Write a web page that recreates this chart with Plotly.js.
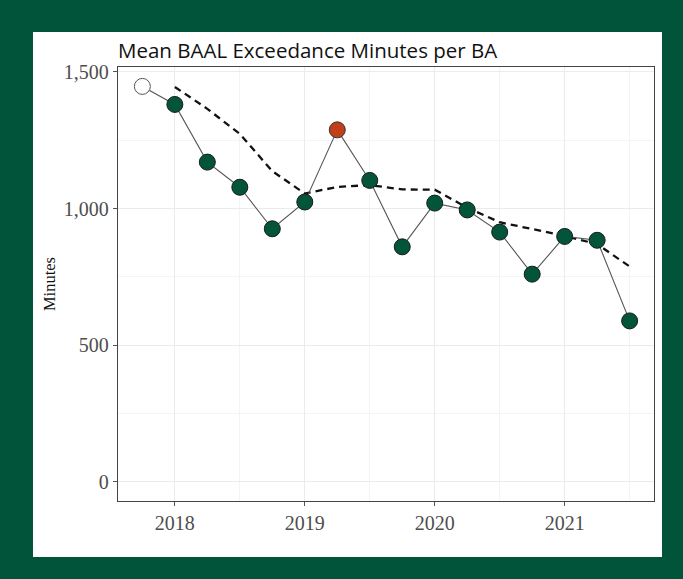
<!DOCTYPE html>
<html>
<head>
<meta charset="utf-8">
<script src="https://cdn.plot.ly/plotly-3.0.1.min.js"></script>
<style>
  html, body { margin: 0; padding: 0; background: #01543a; }
  #chart { width: 683px; height: 579px; }
</style>
</head>
<body>
<div id="chart"></div>
<script>
// Quarterly observations (decimal year)
const quarters = [2017.75, 2018.0, 2018.25, 2018.5, 2018.75, 2019.0, 2019.25, 2019.5,
                  2019.75, 2020.0, 2020.25, 2020.5, 2020.75, 2021.0, 2021.25, 2021.5];
const minutes  = [1447, 1381, 1170, 1078, 926, 1024, 1288, 1103,
                  860, 1020, 995, 914, 760, 898, 884, 589];
// Point status: first point open, one highlighted, rest normal
const pointKind = ["open", "normal", "normal", "normal", "normal", "normal", "high", "normal",
                   "normal", "normal", "normal", "normal", "normal", "normal", "normal", "normal"];
// Dashed trend
const trendQuarters = [2018.0, 2018.25, 2018.5, 2018.75, 2019.0, 2019.25, 2019.5, 2019.75,
                       2020.0, 2020.25, 2020.5, 2020.75, 2021.0, 2021.25, 2021.5];
const trendMinutes  = [1445, 1365, 1273, 1137, 1055, 1079, 1086, 1070,
                       1069, 1003, 950, 925, 900, 870, 788];
const yearTicks = [2018, 2019, 2020, 2021];
const yearLabels = ["2018", "2019", "2020", "2021"];
const minuteTicks = [0, 500, 1000, 1500];

const fillFor = {open: "#ffffff", normal: "#02553b", high: "#c0401a"};
const edgeFor = {open: "#555555", normal: "#1a1a1a", high: "#333333"};

const traces = [
  {
    x: trendQuarters, y: trendMinutes, type: "scatter", mode: "lines",
    line: {color: "#111111", width: 2.3, dash: "7px,5px"},
    hoverinfo: "skip"
  },
  {
    x: quarters, y: minutes, type: "scatter", mode: "lines+markers",
    line: {color: "#555555", width: 1.1},
    marker: {
      size: 16,
      color: pointKind.map(k => fillFor[k]),
      line: {color: pointKind.map(k => edgeFor[k]), width: 1}
    }
  }
];

const layout = {
  width: 683, height: 579,
  paper_bgcolor: "#01543a",
  plot_bgcolor: "#ffffff",
  showlegend: false,
  margin: {l: 118, r: 29, t: 67, b: 78, pad: 0},
  title: {
    text: "Mean BAAL Exceedance Minutes per BA",
    font: {family: "Open Sans, Noto Sans, sans-serif", size: 20.5, color: "#111111"},
    x: 0, xref: "paper", xanchor: "left",
    y: 1, yref: "paper", yanchor: "bottom", pad: {b: 9}
  },
  xaxis: {
    range: [2017.5625, 2021.6875],
    tickvals: yearTicks, ticktext: yearLabels,
    ticks: "outside", ticklen: 4, tickcolor: "#555555", tickwidth: 1,
    tickfont: {family: "Liberation Serif, serif", size: 20, color: "#4d4d4d"},
    showgrid: true, gridcolor: "#ebebeb", gridwidth: 1,
    minor: {dtick: 0.5, tick0: 2017.5, showgrid: true, gridcolor: "#f0f0f0", gridwidth: 0.7, ticks: ""},
    showline: true, linecolor: "#444444", linewidth: 1.2, mirror: true,
    zeroline: false, fixedrange: true
  },
  yaxis: {
    range: [-70, 1518],
    tickvals: minuteTicks, tickformat: ",d",
    ticks: "outside", ticklen: 4, tickcolor: "#555555", tickwidth: 1,
    tickfont: {family: "Liberation Serif, serif", size: 20, color: "#4d4d4d"},
    showgrid: true, gridcolor: "#ebebeb", gridwidth: 1,
    minor: {dtick: 250, tick0: 0, showgrid: true, gridcolor: "#f0f0f0", gridwidth: 0.7, ticks: ""},
    showline: true, linecolor: "#444444", linewidth: 1.2, mirror: true,
    zeroline: false, fixedrange: true,
    title: {text: "Minutes", standoff: 4,
            font: {family: "Liberation Serif, serif", size: 16.5, color: "#111111"}}
  },
  shapes: [{
    type: "rect", xref: "paper", yref: "paper", layer: "below",
    x0: -0.1586, x1: 1.0149, y0: -0.129, y1: 1.0806,
    fillcolor: "#ffffff", line: {width: 0}
  }]
};

Plotly.newPlot("chart", traces, layout, {displayModeBar: false, staticPlot: true});
</script>
</body>
</html>
